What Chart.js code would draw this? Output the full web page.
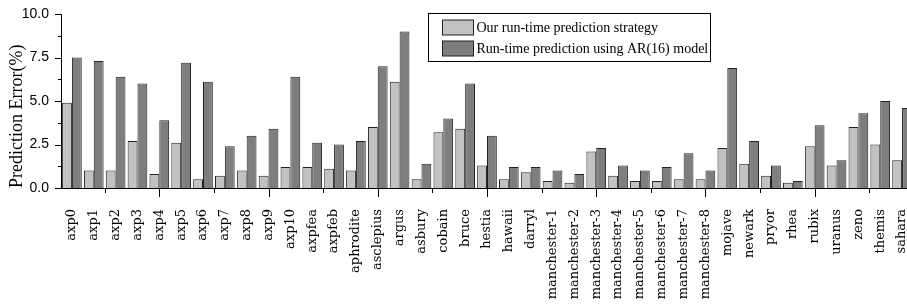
<!DOCTYPE html>
<html>
<head>
<meta charset="utf-8">
<script src="https://cdn.jsdelivr.net/npm/chart.js@4.4.1/dist/chart.umd.min.js"></script>
<style>
  html, body { margin: 0; padding: 0; background: #fff; overflow: hidden; }
  #wrap { position: relative; width: 915px; height: 304px; }
</style>
</head>
<body>
<div id="wrap"><canvas id="myChart"></canvas></div>
<script>
const categories = ['axp0', 'axp1', 'axp2', 'axp3', 'axp4', 'axp5', 'axp6', 'axp7', 'axp8', 'axp9',
    'axp10', 'axpfea', 'axpfeb', 'aphrodite', 'asclepius', 'argus', 'asbury', 'cobain', 'bruce',
    'hestia', 'hawaii', 'darryl', 'manchester-1', 'manchester-2', 'manchester-3', 'manchester-4',
    'manchester-5', 'manchester-6', 'manchester-7', 'manchester-8', 'mojave', 'newark', 'pryor',
    'rhea', 'rubix', 'uranus', 'zeno', 'themis', 'sahara'];

const ourStrategy = [4.9, 1.0, 1.0, 2.7, 0.8, 2.6, 0.5, 0.7, 1.0, 0.7,
    1.2, 1.2, 1.1, 1.0, 3.5, 6.1, 0.5, 3.2, 3.4,
    1.3, 0.5, 0.9, 0.4, 0.3, 2.1, 0.7,
    0.4, 0.4, 0.5, 0.5, 2.3, 1.4, 0.7,
    0.3, 2.4, 1.3, 3.5, 2.5, 1.6];

const arModel = [7.5, 7.3, 6.4, 6.0, 3.9, 7.2, 6.1, 2.4, 3.0, 3.4,
    6.4, 2.6, 2.5, 2.7, 7.0, 9.0, 1.4, 4.0, 6.0,
    3.0, 1.2, 1.2, 1.0, 0.8, 2.3, 1.3,
    1.0, 1.2, 2.0, 1.0, 6.9, 2.7, 1.3,
    0.4, 3.6, 1.6, 4.3, 5.0, 4.6];

const seriesLabels = ['Our run-time prediction strategy', 'Run-time prediction using AR(16) model'];
const yTicks = { min: 0, max: 10, step: 1.25, labelStep: 2.5 };

// tick marks like the original: x every 2.5 categories (long every 5), y minor every 1.25
const axisTicks = {
    id: 'axisTicks',
    afterDraw(chart) {
        const { ctx, chartArea, scales: { x, y } } = chart;
        ctx.save();
        ctx.strokeStyle = '#000';
        ctx.lineWidth = 1;
        ctx.beginPath();
        for (let k = 1; k * 2.5 - 1 < categories.length; k++) {
            const px = Math.round(x.getPixelForValue(k * 2.5 - 1)) + 0.5;
            const len = k % 2 === 0 ? 9 : 5;
            ctx.moveTo(px, chartArea.bottom);
            ctx.lineTo(px, chartArea.bottom + len);
        }
        y.ticks.forEach(t => {
            const py = Math.round(y.getPixelForValue(t.value)) + 0.5;
            const len = t.value % yTicks.labelStep === 0 ? 6 : 3;
            ctx.moveTo(chartArea.left - len, py);
            ctx.lineTo(chartArea.left, py);
        });
        ctx.stroke();
        ctx.restore();
    }
};

// boxed legend sitting inside the plot, top middle
const boxLegend = {
    id: 'boxLegend',
    afterDraw(chart) {
        const ctx = chart.ctx;
        const bx = 428.5, by = 13.5, bw = 282, bh = 48;
        ctx.save();
        ctx.fillStyle = '#fff';
        ctx.fillRect(bx, by, bw, bh);
        ctx.strokeStyle = '#000';
        ctx.lineWidth = 1;
        ctx.strokeRect(bx, by, bw, bh);
        ctx.font = '14px "Liberation Serif"';
        ctx.textBaseline = 'middle';
        chart.data.datasets.forEach((ds, i) => {
            const sy = by + 6.5 + i * 21;
            ctx.fillStyle = ds.backgroundColor;
            ctx.fillRect(bx + 14, sy, 31, 15);
            ctx.strokeStyle = ds.borderColor;
            ctx.strokeRect(bx + 14, sy, 31, 15);
            ctx.fillStyle = '#000';
            ctx.fillText(ds.label, bx + 48, sy + 8);
        });
        ctx.restore();
    }
};

const ctx = document.getElementById('myChart').getContext('2d');
const chart = new Chart(ctx, {
    type: 'bar',
    data: {
        labels: categories,
        datasets: [{
            label: seriesLabels[0],
            data: ourStrategy,
            backgroundColor: '#c2c2c2',
            borderColor: '#222',
            borderWidth: 1
        }, {
            label: seriesLabels[1],
            data: arModel,
            backgroundColor: '#7e7e7e',
            borderColor: '#222',
            borderWidth: 1
        }]
    },
    options: {
        responsive: true,
        maintainAspectRatio: false,
        animation: false,
        layout: {
            padding: { top: 14, right: 2, bottom: 0, left: 0 }
        },
        datasets: {
            bar: { categoryPercentage: 0.9, barPercentage: 1.0 }
        },
        scales: {
            x: {
                grid: { display: false, drawTicks: false },
                border: { display: true, color: '#000', width: 1 },
                ticks: {
                    autoSkip: false,
                    minRotation: 90,
                    maxRotation: 90,
                    padding: 21,
                    color: '#000',
                    font: { family: '"DejaVu Serif"', size: 13 }
                },
                afterFit(scale) {
                    scale.height = 116;
                    scale.paddingLeft = 0;
                    scale.paddingRight = 0;
                }
            },
            y: {
                min: yTicks.min,
                max: yTicks.max,
                grid: { display: false, drawTicks: false },
                border: { display: true, color: '#000', width: 1 },
                ticks: {
                    stepSize: yTicks.step,
                    padding: 12,
                    color: '#000',
                    font: { family: '"Liberation Sans"', size: 14 },
                    callback: function (value) {
                        return value % yTicks.labelStep === 0 ? value.toFixed(1) : '';
                    }
                },
                title: {
                    display: true,
                    text: 'Prediction Error(%)',
                    align: 'start',
                    color: '#000',
                    font: { family: '"Liberation Serif"', size: 18, lineHeight: 1 },
                    padding: { top: 8, bottom: 0 }
                },
                afterFit(scale) {
                    scale.width = 61;
                    scale.paddingTop = 0;
                    scale.paddingBottom = 0;
                }
            }
        },
        plugins: {
            legend: { display: false },
            tooltip: { enabled: false }
        }
    },
    plugins: [axisTicks, boxLegend]
});
</script>
</body>
</html>
